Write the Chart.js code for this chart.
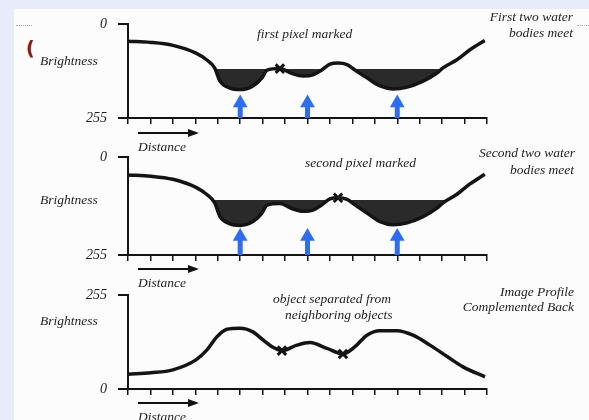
<!DOCTYPE html>
<html lang="en">
<head>
<meta charset="UTF-8">
<title>Watershed profile</title>
<script src="https://cdn.jsdelivr.net/npm/chart.js@4.4.1/dist/chart.umd.min.js"></script>
<style>
  body { margin:0; width:589px; height:420px; background:#e7ebfa; position:relative; overflow:hidden; }
  #sheet { position:absolute; left:14px; top:9px; right:0; bottom:0; background:#fcfcfc; }
  canvas.panel { position:absolute; left:78px; }
  .t { position:absolute; font: italic 13.5px "Liberation Serif", "DejaVu Serif", serif; color:#1e1e1e; white-space:nowrap; line-height:14px; }
  .dots { position:absolute; top:25px; height:0; border-top:1px dotted #aaa; }
  svg.dir { position:absolute; left:136px; }
  .paren { position:absolute; left:26px; top:37px; font: bold 19px "DejaVu Sans", sans-serif; color:#8b1414; }
</style>
</head>
<body>
<div id="sheet"></div>
<div class="dots" style="left:16px;width:16px"></div>
<div class="dots" style="left:577px;width:12px"></div>
<div class="paren">(</div>

<canvas class="panel" id="p1" width="420" height="116" style="top:14px"></canvas>
<canvas class="panel" id="p2" width="420" height="120" style="top:147px"></canvas>
<canvas class="panel" id="p3" width="420" height="116" style="top:285px"></canvas>

<!-- panel 1 text -->
<div class="t" style="left:40px;top:54px">Brightness</div>
<div class="t" style="left:257px;top:27px">first pixel marked</div>
<div class="t" style="right:16px;top:10px">First two water</div>
<div class="t" style="right:16px;top:26px">bodies meet</div>
<svg class="dir" style="top:127px" width="66" height="12"><line x1="2" y1="6" x2="54" y2="6" stroke="#111" stroke-width="2"/><polygon points="52,2 63,6 52,10" fill="#111"/></svg>
<div class="t" style="left:138px;top:140px">Distance</div>

<!-- panel 2 text -->
<div class="t" style="left:40px;top:193px">Brightness</div>
<div class="t" style="left:305px;top:156px">second pixel marked</div>
<div class="t" style="right:14px;top:146px">Second two water</div>
<div class="t" style="right:15px;top:163px">bodies meet</div>
<svg class="dir" style="top:263px" width="66" height="12"><line x1="2" y1="6" x2="54" y2="6" stroke="#111" stroke-width="2"/><polygon points="52,2 63,6 52,10" fill="#111"/></svg>
<div class="t" style="left:138px;top:276px">Distance</div>

<!-- panel 3 text -->
<div class="t" style="left:40px;top:314px">Brightness</div>
<div class="t" style="left:273px;top:292px">object separated from</div>
<div class="t" style="left:285px;top:308px">neighboring objects</div>
<div class="t" style="right:15px;top:285px">Image Profile</div>
<div class="t" style="right:15px;top:300px">Complemented Back</div>
<svg class="dir" style="top:397px" width="66" height="12"><line x1="2" y1="6" x2="54" y2="6" stroke="#111" stroke-width="2"/><polygon points="52,2 63,6 52,10" fill="#111"/></svg>
<div class="t" style="left:138px;top:410px">Distance</div>

<script>
// tick positions
const distanceTicks = [0, 1, 2, 3, 4, 5, 6, 7, 8, 9, 10, 11, 12, 13, 14, 15, 16];
const brightnessTicks = [0, 255];

// brightness profile (panels 1 and 2, axis inverted)
const profileX = [0, 1.02, 2, 3.03, 3.5, 3.86, 4.1, 4.55, 5, 5.57, 5.97, 6.2, 6.77, 7.3, 7.8, 8.24, 8.65, 9, 9.36, 9.76, 10.1, 10.65, 11.23, 11.8, 12.4, 13.15, 13.77, 14.04, 14.66, 15.24, 15.9];
const profileY = [47, 50, 58, 79, 97, 119, 155, 174, 178, 168, 146, 125, 121, 134, 141, 138, 124, 109, 106, 110, 124, 146, 168, 176, 172, 155, 133, 119, 97, 70, 45];

// flooding level in each of the first two panels
const waterLevels = [122, 112];

// complemented profile (panel 3)
const complementX = [0, 1.02, 2, 3.03, 3.52, 3.97, 4.41, 4.99, 5.57, 6.02, 6.46, 6.86, 7.53, 8.11, 8.87, 9.58, 10.12, 10.65, 11.23, 11.99, 12.7, 13.46, 14.22, 14.93, 15.91];
const complementY = [40, 44, 52, 79, 106, 142, 162, 165, 155, 133, 113, 104, 119, 126, 110, 95, 115, 146, 158, 158, 146, 119, 88, 60, 33];

// marked pixels (X)
const markX1 = [6.77], markY1 = [121];
const markX2 = [9.36], markY2 = [106];
const markX3 = [6.86, 9.58], markY3 = [104, 95];

// seed arrows
const arrowX = [5, 8, 12];
const arrowHead = [214, 207];

const ink = '#141414';
const blue = '#2c6cf6';

Chart.defaults.font.family = '"Liberation Serif", serif';
Chart.defaults.font.style = 'italic';
Chart.defaults.font.size = 14;
Chart.defaults.color = '#1e1e1e';

function zip(xs, ys) {
    return xs.map(function (x, i) { return {x: x, y: ys[i]}; });
}

function curveSet(xs, ys, fill) {
    return {
        data: zip(xs, ys),
        borderColor: ink,
        borderWidth: 3.5,
        pointRadius: 0,
        cubicInterpolationMode: 'monotone',
        fill: fill || false,
        order: 1
    };
}

function markSet(xs, ys) {
    return {
        data: zip(xs, ys),
        showLine: false,
        pointStyle: 'crossRot',
        pointRadius: 6,
        pointBorderWidth: 3,
        pointBorderColor: ink,
        order: 0,
        clip: false
    };
}

function arrowSets(head) {
    return arrowX.map(function (a) {
        return {
            data: [{x: a, y: 255}, {x: a, y: head}],
            borderColor: blue,
            borderWidth: 5,
            tension: 0,
            pointStyle: 'triangle',
            pointRadius: [0, 8.5],
            pointBackgroundColor: blue,
            pointBorderWidth: 0,
            order: 2,
            clip: false
        };
    });
}

function waterSet(level) {
    return {
        data: [{x: 0, y: level}, {x: 16, y: level}],
        borderWidth: 0,
        borderColor: 'rgba(0,0,0,0)',
        pointRadius: 0,
        fill: false,
        order: 3
    };
}

function makePanel(id, datasets, reverse) {
    new Chart(document.getElementById(id), {
        type: 'line',
        data: {datasets: datasets},
        options: {
            responsive: false,
            animation: false,
            devicePixelRatio: 1,
            layout: {padding: {top: 10, right: 11, bottom: 0, left: 0}},
            plugins: {legend: {display: false}, tooltip: {enabled: false}},
            scales: {
                x: {
                    type: 'linear', min: 0, max: 16,
                    afterBuildTicks: function (s) { s.ticks = distanceTicks.map(function (v) { return {value: v}; }); },
                    afterFit: function (s) { s.height = 12; s.paddingLeft = 0; s.paddingRight = 0; },
                    ticks: {display: false},
                    grid: {drawOnChartArea: false, tickLength: 6, color: ink, lineWidth: 1.5},
                    border: {color: ink, width: 2}
                },
                y: {
                    type: 'linear', min: 0, max: 255, reverse: reverse,
                    afterBuildTicks: function (s) { s.ticks = brightnessTicks.map(function (v) { return {value: v}; }); },
                    afterFit: function (s) { s.width = 50; s.paddingTop = 0; s.paddingBottom = 0; },
                    ticks: {padding: 11},
                    grid: {drawOnChartArea: false, tickLength: 10, color: ink, lineWidth: 2},
                    border: {color: ink, width: 2}
                }
            }
        }
    });
}

var pool = {target: 0, above: 'rgba(0,0,0,0)', below: '#2a2a2a'};

makePanel('p1', [waterSet(waterLevels[0]), curveSet(profileX, profileY, pool), markSet(markX1, markY1)].concat(arrowSets(arrowHead[0])), true);
makePanel('p2', [waterSet(waterLevels[1]), curveSet(profileX, profileY, pool), markSet(markX2, markY2)].concat(arrowSets(arrowHead[1])), true);
makePanel('p3', [curveSet(complementX, complementY), markSet(markX3, markY3)], false);
</script>
</body>
</html>
